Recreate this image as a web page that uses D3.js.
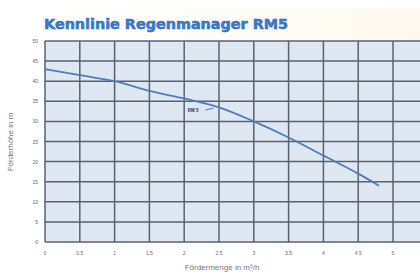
<!DOCTYPE html>
<html>
<head>
<meta charset="utf-8">
<script src="https://cdn.jsdelivr.net/npm/d3@7"></script>
<style>
  body { margin: 0; background: #fff; }
  svg { display: block; font-family: "Liberation Sans", Arial, sans-serif; }
</style>
</head>
<body>
<svg id="chart" width="420" height="275"></svg>
<script>
// curve
const flow = [0, 0.5, 1, 1.5, 2, 2.5, 3, 3.5, 4, 4.5, 4.8];
const head = [43, 41.5, 40, 37.6, 35.7, 33.5, 30, 26, 21.5, 17, 14];
const xTicks = [0, 0.5, 1, 1.5, 2, 2.5, 3, 3.5, 4, 4.5, 5];
const xTickLabels = ["0", "0.5", "1", "1.5", "2", "2.5", "3", "3.5", "4", "4.5", "5"];
const yTicks = [0, 5, 10, 15, 20, 25, 30, 35, 40, 45, 50];

const svg = d3.select("#chart");

const x = d3.scaleLinear().domain([0, 5]).range([45, 393]);
const y = d3.scaleLinear().domain([0, 50]).range([242, 41]);

// header band
const grad = svg.append("defs").append("linearGradient")
    .attr("id", "band").attr("x1", 0).attr("x2", 1);
grad.append("stop").attr("offset", 0).attr("stop-color", "#ffffff");
grad.append("stop").attr("offset", 1).attr("stop-color", "#fdf9ee");
svg.append("rect")
    .attr("x", 36).attr("y", 8).attr("width", 384).attr("height", 33)
    .attr("fill", "url(#band)");

svg.append("text")
    .attr("x", 44).attr("y", 29)
    .attr("fill", "#3a78c6")
    .attr("stroke", "#3a78c6")
    .attr("stroke-width", 0.6)
    .attr("font-family", "DejaVu Sans")
    .attr("font-size", 13.5)
    .attr("font-weight", "bold")
    .attr("textLength", 244)
    .attr("lengthAdjust", "spacingAndGlyphs")
    .text("Kennlinie Regenmanager RM5");

// plot background
svg.append("rect")
    .attr("x", x(0)).attr("y", y(50))
    .attr("width", 420 - x(0)).attr("height", y(0) - y(50))
    .attr("fill", "#dfe7f3");

const grid = svg.append("g").attr("stroke", "#5a6270").attr("stroke-width", 1.5);

grid.selectAll("line.h")
    .data(yTicks)
    .join("line")
    .attr("class", "h")
    .attr("x1", x(0)).attr("x2", 420)
    .attr("y1", d => y(d)).attr("y2", d => y(d));

grid.selectAll("line.v")
    .data(xTicks)
    .join("line")
    .attr("class", "v")
    .attr("y1", y(50)).attr("y2", y(0))
    .attr("x1", d => x(d)).attr("x2", d => x(d));

// axis labels
svg.append("g")
    .selectAll("text")
    .data(yTicks)
    .join("text")
    .attr("x", 38).attr("y", d => y(d) + 2)
    .attr("text-anchor", "end")
    .attr("font-size", 5)
    .attr("fill", "#666")
    .text(d => d);

svg.append("g")
    .selectAll("text")
    .data(xTicks)
    .join("text")
    .attr("x", d => x(d)).attr("y", 255)
    .attr("text-anchor", "middle")
    .attr("font-size", 5)
    .attr("fill", "#666")
    .text((d, i) => xTickLabels[i]);

svg.append("text")
    .attr("transform", "translate(13,142) rotate(-90)")
    .attr("text-anchor", "middle")
    .attr("font-size", 8)
    .attr("fill", "#777")
    .text("Förderhöhe in m");

svg.append("text")
    .attr("x", 222).attr("y", 270)
    .attr("text-anchor", "middle")
    .attr("font-size", 8)
    .attr("fill", "#777")
    .text("Fördermenge in m³/h");

// curve
const pts = flow.map((f, i) => [f, head[i]]);
const line = d3.line()
    .x(d => x(d[0]))
    .y(d => y(d[1]))
    .curve(d3.curveMonotoneX);

svg.append("path")
    .datum(pts)
    .attr("fill", "none")
    .attr("stroke", "#4f7db8")
    .attr("stroke-width", 1.8)
    .attr("d", line);

// small curve label
svg.append("text")
    .attr("x", x(2.05)).attr("y", y(32.3))
    .attr("font-size", 4.5)
    .attr("font-weight", "bold")
    .attr("fill", "#333")
    .text("RM 5");
svg.append("line")
    .attr("x1", x(2.3)).attr("y1", y(32.8))
    .attr("x2", x(2.42)).attr("y2", y(33.3))
    .attr("stroke", "#4a77b4").attr("stroke-width", 1);
</script>
</body>
</html>
